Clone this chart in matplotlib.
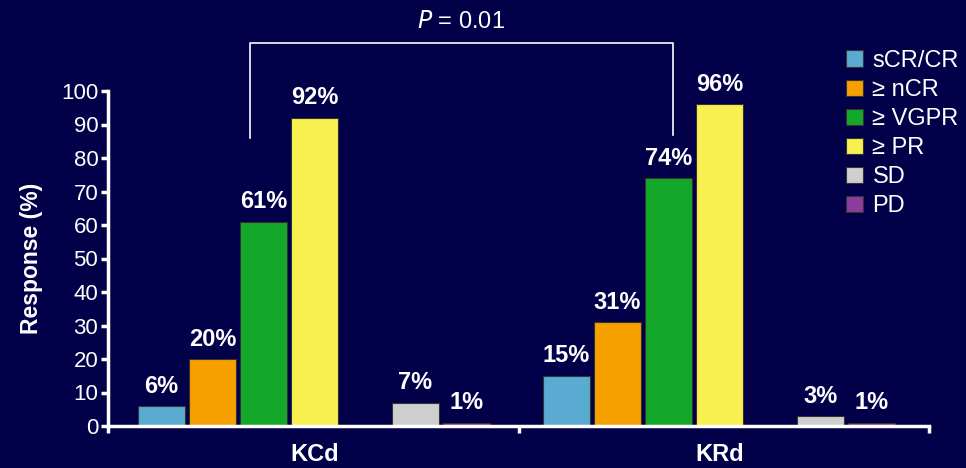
import numpy as np
import matplotlib
matplotlib.use('Agg')
import matplotlib.pyplot as plt
from matplotlib.patches import Patch

plt.rcParams['font.family'] = ['Liberation Sans', 'DejaVu Sans']

groups = ['KCd', 'KRd']
categories = ['sCR/CR', '\u2265 nCR', '\u2265 VGPR', '\u2265 PR', 'SD', 'PD']
kcd = [6, 20, 61, 92, 7, 1]
krd = [15, 31, 74, 96, 3, 1]
labels_kcd = ['6%', '20%', '61%', '92%', '7%', '1%']
labels_krd = ['15%', '31%', '74%', '96%', '3%', '1%']
colors = ['#5aabd2', '#f6a000', '#14a82a', '#f8f050', '#cfcfcf', '#8c3c9c']
p_text = '= 0.01'

bg = '#020048'
fig = plt.figure(figsize=(9.66, 4.68), dpi=100, facecolor=bg)
ax = fig.add_axes([108/966, 1-426/468, (929-108)/966, (426-91)/468])
ax.set_facecolor(bg)

# slot offsets relative to group centre, slot 4 left empty
step = 51/405
slots = np.array([-3, -2, -1, 0, 1.98, 2.98]) * step
width = 47/405

for gi, (vals, labs) in enumerate([(kcd, labels_kcd), (krd, labels_krd)]):
    for i in range(len(vals)):
        x = gi + slots[i]
        ax.bar(x, vals[i], width=width, color=colors[i], edgecolor='#333333',
               linewidth=0.8, zorder=2)
        ax.annotate(labs[i], (x, vals[i]), xytext=(0, 6), textcoords='offset points',
                    ha='center', va='bottom', color='white', fontsize=17,
                    fontweight='bold', annotation_clip=False)

ax.set_xlim(-0.51, 1.517)
ax.set_ylim(0, 100)
ax.set_yticks(np.arange(0, 101, 10))
ax.set_xticks([-0.51, 0.505, 1.517])
ax.set_xticklabels([])
ax.set_xticks([0, 1], minor=True)
ax.set_xticklabels(groups, minor=True, fontsize=17, fontweight='bold', color='white')
ax.tick_params(axis='x', which='minor', length=0, pad=12)
ax.tick_params(axis='x', which='major', length=5, width=2.5, color='white')
ax.tick_params(axis='y', length=5, width=2.5, color='white', labelcolor='white',
               labelsize=16, pad=2)

for s in ['top', 'right']:
    ax.spines[s].set_visible(False)
for s in ['left', 'bottom']:
    ax.spines[s].set_color('white')
    ax.spines[s].set_linewidth(2.5)

ax.set_ylabel('Response (%)', color='white', fontsize=16.5, fontweight='bold', labelpad=13)

# significance bracket
bx = [-0.159, -0.159, 0.885, 0.885]
by = [86, 114.3, 114.3, 86.9]
ax.plot(bx, by, color='white', linewidth=1.2, clip_on=False)
ax.text(0.362, 120.5, '$\\mathit{P}$ ' + p_text, ha='center', va='center',
        color='white', fontsize=17)

handles = [Patch(facecolor=c, edgecolor='#333333', linewidth=0.8) for c in colors]
leg = fig.legend(handles, categories, loc='upper left', bbox_to_anchor=(846/966, 1-50/468),
                 frameon=False, fontsize=17, labelcolor='white', handlelength=0.7,
                 handleheight=0.7, handletextpad=0.42, labelspacing=0.3,
                 borderaxespad=0, borderpad=0)

fig.savefig('out.png', dpi=100, facecolor=bg)
